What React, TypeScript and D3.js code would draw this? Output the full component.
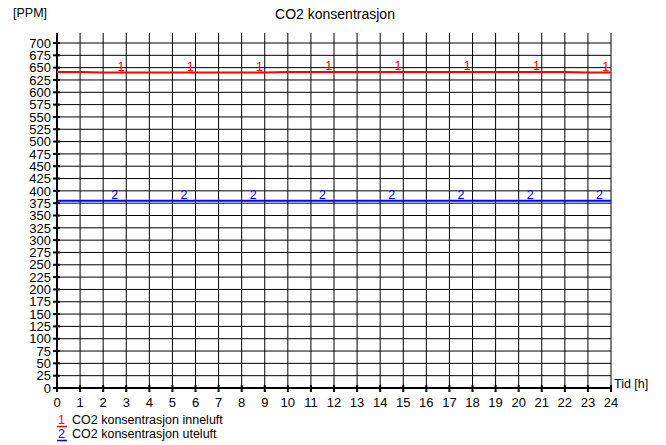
import * as d3 from "d3";

const hours = d3.range(0, 25);
const yTicks = d3.range(0, 701, 25);
const inneluft = [641, 641, 640, 640, 640, 640, 640, 640, 640, 640, 641, 641, 641, 641, 641, 641, 641, 641, 641, 641, 641, 641, 641, 640, 640];
const uteluft = [380, 380, 380, 380, 380, 380, 380, 380, 380, 380, 380, 380, 380, 380, 380, 380, 380, 380, 380, 380, 380, 380, 380, 380, 380];
const markers1 = [2.77, 5.77, 8.77, 11.77, 14.77, 17.77, 20.77, 23.77];
const markers2 = [2.5, 5.5, 8.5, 11.5, 14.5, 17.5, 20.5, 23.5];

const series = [
  { key: "1", name: "CO2 konsentrasjon inneluft", color: "#ff0000", values: inneluft, marks: markers1 },
  { key: "2", name: "CO2 konsentrasjon uteluft", color: "#0000ff", values: uteluft, marks: markers2 },
];

export default function App() {
  const width = 666;
  const height = 445;
  const x = d3.scaleLinear().domain([0, 24]).range([57, 611]);
  const y = d3.scaleLinear().domain([0, 700]).range([388, 43]);
  const font = "'Liberation Sans', Arial, sans-serif";

  const line = d3
    .line<number>()
    .x((_, i) => x(hours[i]))
    .y((d) => y(d));

  return (
    <svg
      width={width}
      height={height}
      style={{ position: "absolute", left: 0, top: 0, background: "#fff" }}
      fontFamily={font}
    >
      <text x={335} y={19} textAnchor="middle" fontSize={14}>
        CO2 konsentrasjon
      </text>
      <text x={13} y={17} fontSize={12.5}>
        [PPM]
      </text>

      {/* grid */}
      {yTicks.map((t) => (
        <line key={"h" + t} x1={x(0)} x2={x(24)} y1={y(t)} y2={y(t)} stroke="#000" strokeWidth={1} />
      ))}
      {hours.map((h) => (
        <line key={"v" + h} x1={x(h)} x2={x(h)} y1={y(0)} y2={y(700) - 10} stroke="#000" strokeWidth={1} />
      ))}

      {/* axes */}
      <line x1={x(0)} x2={x(0)} y1={y(0)} y2={y(700) - 10} stroke="#000" strokeWidth={2} />
      <line x1={x(0)} x2={x(24)} y1={y(0)} y2={y(0)} stroke="#000" strokeWidth={2} />
      {yTicks.map((t) => (
        <g key={"yt" + t}>
          <line x1={x(0) - 4} x2={x(0) + 3} y1={y(t)} y2={y(t)} stroke="#000" strokeWidth={2} />
          <text x={x(0) - 6} y={y(t)} dy="0.36em" textAnchor="end" fontSize={13}>
            {t}
          </text>
        </g>
      ))}
      {hours.map((h) => (
        <g key={"xt" + h}>
          <line x1={x(h)} x2={x(h)} y1={y(0) - 3} y2={y(0) + 4} stroke="#000" strokeWidth={2} />
          <text x={x(h)} y={y(0) + 19} textAnchor="middle" fontSize={13}>
            {h}
          </text>
        </g>
      ))}
      <text x={614} y={388} fontSize={12.5}>
        Tid [h]
      </text>

      {/* series */}
      {series.map((s) => (
        <g key={s.key}>
          <path d={line(s.values) ?? ""} fill="none" stroke={s.color} strokeWidth={2} />
          {s.marks.map((m) => {
            const i = Math.floor(m);
            const v = s.values[i] + (s.values[i + 1] - s.values[i]) * (m - i);
            return (
              <text key={m} x={x(m)} y={y(v) - 2} textAnchor="middle" fontSize={12.5} fill={s.color}>
                {s.key}
              </text>
            );
          })}
        </g>
      ))}

      {/* legend */}
      {series.map((s, i) => (
        <g key={"lg" + s.key} transform={`translate(57,${424 + i * 14})`}>
          <text x={1} y={0} fontSize={12.5} fill={s.color}>
            {s.key}
          </text>
          <line x1={0} x2={10} y1={2.5} y2={2.5} stroke={s.color} strokeWidth={1.5} />
          <text x={15} y={0} fontSize={12.5}>
            {s.name}
          </text>
        </g>
      ))}
    </svg>
  );
}
